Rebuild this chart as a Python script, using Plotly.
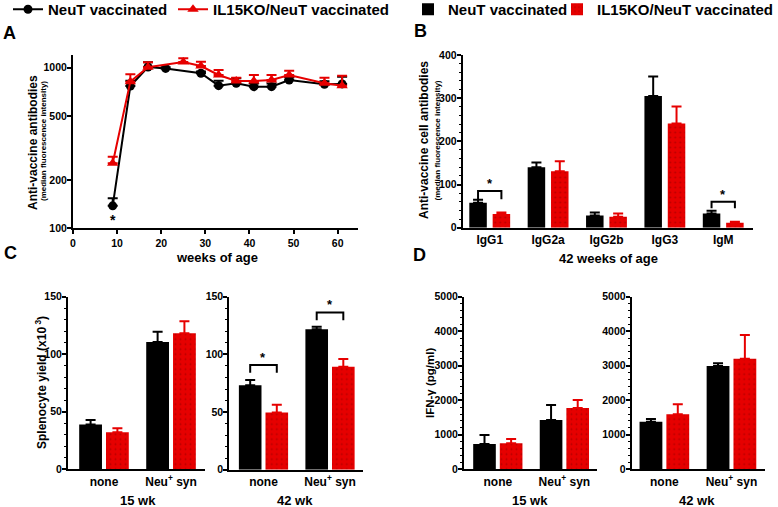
import math
import plotly.graph_objects as go

W, H = 778, 507
FONT = "Liberation Sans, Arial, sans-serif"
BLACK = "#000000"
RED = "#e60000"

# ---------------- Data ----------------
# Panel A: anti-vaccine antibodies (MFI) vs weeks of age
weeks_neut = [9, 13, 17, 21, 29, 33, 37, 41, 45, 49, 57, 61]
mfi_neut = [138, 769, 1010, 990, 923, 773, 800, 762, 762, 838, 788, 793]
sem_neut = [16, 61, 70, 15, 25, 57, 60, 35, 35, 30, 35, 87]
weeks_ko = [9, 13, 17, 25, 29, 33, 37, 41, 45, 49, 57, 61]
mfi_ko = [254, 819, 1006, 1085, 1025, 901, 826, 826, 838, 901, 800, 773]
sem_ko = [25, 91, 75, 59, 66, 67, 40, 75, 63, 57, 67, 117]
sig_A_weeks = [9]

# Panel B: isotypes at 42 weeks
isotypes = ["IgG1", "IgG2a", "IgG2b", "IgG3", "IgM"]
iso_neut = [58, 140, 28.5, 305, 33]
iso_neut_sem = [7, 11, 6.5, 45, 6]
iso_ko = [31.6, 131, 25.5, 241.5, 11.6]
iso_ko_sem = [3.4, 23, 7.5, 39.5, 2.4]
sig_B = [(0, 85, 66), (4, 60, 45)]  # (category index, bracket top, leg bottom)

# Panels C / D
stim = ["none", "Neu<sup>+</sup> syn"]
spleno_15_neut = [39, 110.6]
spleno_15_neut_sem = [3.9, 9]
spleno_15_ko = [32.1, 118.2]
spleno_15_ko_sem = [3.5, 10.4]
spleno_42_neut = [73.3, 121.7]
spleno_42_neut_sem = [4.6, 2.3]
spleno_42_ko = [49.6, 89.4]
spleno_42_ko_sem = [6.7, 6.6]
sig_C42 = [(0, 90.9, 84.0), (1, 136.4, 129.5)]

ifn_15_neut = [733, 1428]
ifn_15_neut_sem = [261, 435]
ifn_15_ko = [753, 1776]
ifn_15_ko_sem = [125, 232]
ifn_42_neut = [1380, 2992]
ifn_42_neut_sem = [78, 77]
ifn_42_ko = [1593, 3205]
ifn_42_ko_sem = [289, 685]

# ---------------- Helpers ----------------
def xd(a, b):
    return [a / W, b / W]

def yd(top, bottom):
    return [1 - bottom / H, 1 - top / H]

tickfont = dict(family=FONT, size=10.5, color="black", weight="bold")
catfont = dict(family=FONT, size=12, color="black", weight="bold")

def xaxis(domain, anchor, rng, **kw):
    d = dict(domain=domain, anchor=anchor, range=rng, showline=True, linewidth=2,
             linecolor="black", showgrid=False, zeroline=False, tickfont=tickfont,
             fixedrange=True)
    d.update(kw)
    return d

def yaxis(domain, anchor, rng, **kw):
    d = dict(domain=domain, anchor=anchor, range=rng, showline=True, linewidth=2,
             linecolor="black", showgrid=False, zeroline=False, ticks="outside",
             ticklen=4, tickwidth=1.5, tickcolor="black", tickfont=tickfont,
             ticklabelstandoff=-2, fixedrange=True)
    d.update(kw)
    return d

fig = go.Figure()

# ---------------- Panel A ----------------
fig.add_trace(go.Scatter(
    x=weeks_neut, y=mfi_neut, mode="lines+markers", name="NeuT vaccinated",
    line=dict(color=BLACK, width=2), marker=dict(symbol="circle", size=9, color=BLACK),
    error_y=dict(type="data", symmetric=False, array=sem_neut, arrayminus=[0] * len(sem_neut),
                 color=BLACK, thickness=2, width=5),
    xaxis="x", yaxis="y", legend="legend", legendwidth=120))
fig.add_trace(go.Scatter(
    x=weeks_ko, y=mfi_ko, mode="lines+markers", name="IL15KO/NeuT vaccinated",
    line=dict(color=RED, width=2), marker=dict(symbol="triangle-up", size=10, color=RED),
    error_y=dict(type="data", symmetric=False, array=sem_ko, arrayminus=[0] * len(sem_ko),
                 color=RED, thickness=2, width=5),
    xaxis="x", yaxis="y", legend="legend"))

annotations = []
shapes = []
for wk in sig_A_weeks:
    v = mfi_neut[weeks_neut.index(wk)]
    annotations.append(dict(x=wk, y=math.log10(v / 1.23), xref="x", yref="y", text="<b>*</b>",
                            showarrow=False, font=dict(family=FONT, size=14, color="black")))

# ---------------- Bar helpers ----------------
BW = 0.34
OFF_N, OFF_K = -0.37, 0.03

def bars(xref, yref, vals_n, sem_n, vals_k, sem_k, legend=None, bw=BW, offn=OFF_N, offk=OFF_K):
    idx = list(range(len(vals_n)))
    show = legend is not None
    extra = dict(legendwidth=104) if show else {}
    fig.add_trace(go.Bar(
        x=idx, y=vals_n, width=bw, offset=offn, name="NeuT vaccinated",
        marker=dict(color=BLACK, line=dict(width=0)),
        error_y=dict(type="data", symmetric=False, array=sem_n, arrayminus=[0] * len(sem_n),
                     color=BLACK, thickness=2, width=5),
        xaxis=xref, yaxis=yref, showlegend=show, legend=legend or "legend", **extra))
    fig.add_trace(go.Bar(
        x=idx, y=vals_k, width=bw, offset=offk, name="IL15KO/NeuT vaccinated",
        marker=dict(color=RED, line=dict(width=0),
                    pattern=dict(shape=".", fgcolor="#8a0000", size=5, solidity=0.12)),
        error_y=dict(type="data", symmetric=False, array=sem_k, arrayminus=[0] * len(sem_k),
                     color=RED, thickness=2, width=5),
        xaxis=xref, yaxis=yref, showlegend=show, legend=legend or "legend"))

def brackets(xref, yref, sig, bw=BW, offn=OFF_N, offk=OFF_K):
    for i, top, leg in sig:
        x0 = i + offn + bw / 2
        x1 = i + offk + bw / 2
        shapes.append(dict(type="path", xref=xref, yref=yref,
                           path=f"M {x0},{leg} L {x0},{top} L {x1},{top} L {x1},{leg}",
                           line=dict(color="black", width=2)))
        annotations.append(dict(x=(x0 + x1) / 2, y=top, xref=xref, yref=yref, yanchor="bottom",
                                text="<b>*</b>", showarrow=False, yshift=-2,
                                font=dict(family=FONT, size=13, color="black")))

# ---------------- Panel B ----------------
BWB, OFFNB, OFFKB = 0.30, -0.35, 0.05
bars("x2", "y2", iso_neut, iso_neut_sem, iso_ko, iso_ko_sem, legend="legend2",
     bw=BWB, offn=OFFNB, offk=OFFKB)
brackets("x2", "y2", sig_B, bw=BWB, offn=OFFNB, offk=OFFKB)

# ---------------- Panels C / D ----------------
bars("x3", "y3", spleno_15_neut, spleno_15_neut_sem, spleno_15_ko, spleno_15_ko_sem)
bars("x4", "y4", spleno_42_neut, spleno_42_neut_sem, spleno_42_ko, spleno_42_ko_sem)
brackets("x4", "y4", sig_C42)
bars("x5", "y5", ifn_15_neut, ifn_15_neut_sem, ifn_15_ko, ifn_15_ko_sem)
bars("x6", "y6", ifn_42_neut, ifn_42_neut_sem, ifn_42_ko, ifn_42_ko_sem)

# ---------------- Axes ----------------
cat_kw = dict(tickvals=[0, 1], ticktext=stim, ticks="", tickfont=catfont)
minor_c = dict(ticklen=2, tickwidth=1, dtick=10, tickcolor="black")
minor_d = dict(ticklen=2, tickwidth=1, dtick=200, tickcolor="black")

layout_axes = dict(
    xaxis=xaxis(xd(73, 358), "y", [0, 64.6], tickvals=[0, 10, 20, 30, 40, 50, 60],
                ticks="outside", ticklen=4, tickwidth=1.5, tickcolor="black"),
    yaxis=yaxis(yd(55, 228.3), "x", [2, math.log10(1200)], type="log",
                tickvals=[100, 200, 500, 1000], ticktext=["100", "200", "500", "1000"]),
    xaxis2=xaxis(xd(462.7, 753), "y2", [-0.463, 4.51], tickvals=list(range(len(isotypes))),
                 ticktext=isotypes, ticks="", tickfont=catfont),
    yaxis2=yaxis(yd(55, 227.7), "x2", [0, 400], tickvals=[0, 100, 200, 300, 400],
                 minor=dict(ticklen=2, tickwidth=1, dtick=20, tickcolor="black")),
    xaxis3=xaxis(xd(68, 205), "y3", [-0.537, 1.507], **cat_kw),
    yaxis3=yaxis(yd(296.7, 469.3), "x3", [0, 150], tickvals=[0, 50, 100, 150], minor=minor_c),
    xaxis4=xaxis(xd(229.3, 363), "y4", [-0.514, 1.496], **cat_kw),
    yaxis4=yaxis(yd(296.7, 469.8), "x4", [0, 150], tickvals=[0, 50, 100, 150], minor=minor_c),
    xaxis5=xaxis(xd(464, 597), "y5", [-0.508, 1.49], **cat_kw),
    yaxis5=yaxis(yd(296.7, 469.3), "x5", [0, 5000], tickvals=[0, 1000, 2000, 3000, 4000, 5000],
                 minor=minor_d),
    xaxis6=xaxis(xd(631.7, 765), "y6", [-0.487, 1.50], **cat_kw),
    yaxis6=yaxis(yd(296.7, 469.3), "x6", [0, 5000], tickvals=[0, 1000, 2000, 3000, 4000, 5000],
                 minor=minor_d),
)

# ---------------- Text annotations ----------------
def ptext(x, y, text, size, angle=0, weight="bold"):
    annotations.append(dict(x=x / W, y=1 - y / H, xref="paper", yref="paper", text=text,
                            showarrow=False, textangle=angle, xanchor="center", yanchor="middle",
                            font=dict(family=FONT, size=size, color="black", weight=weight)))

# panel letters
ptext(9, 33, "A", 18)
ptext(420, 31, "B", 18)
ptext(10, 253, "C", 18)
ptext(419, 255, "D", 18)
# axis titles
ptext(33, 143, "Anti-vaccine antibodies", 12, -90)
ptext(43, 141, "(median fluorescence intensity)", 8, -90)
ptext(217, 257, "weeks of age", 13)
ptext(424, 140, "Anti-vaccine cell antibodies", 12, -90)
ptext(436.5, 141, "(median fluorescence intensity)", 8, -90)
ptext(608, 258, "42 weeks of age", 13)
ptext(41, 383, "Splenocyte yield (x10<sup> 3</sup>)", 12, -90)
ptext(430, 383, "IFN-γ (pg/ml)", 11.5, -90)
ptext(138, 500, "15 wk", 13)
ptext(295, 500, "42 wk", 13)
ptext(530, 500, "15 wk", 13)
ptext(697, 500, "42 wk", 13)

legfont = dict(family=FONT, size=15, color="black", weight="bold")
fig.update_layout(
    width=W, height=H, margin=dict(l=0, r=0, t=0, b=0, pad=0, autoexpand=False),
    paper_bgcolor="white", plot_bgcolor="white",
    barmode="overlay",
    showlegend=True,
    legend=dict(orientation="h", x=8 / W, y=1 + 7 / H, xanchor="left", yanchor="top",
                font=legfont, bgcolor="rgba(0,0,0,0)", itemwidth=30, borderwidth=0),
    legend2=dict(orientation="h", x=408 / W, y=1 + 7 / H, xanchor="left", yanchor="top",
                 font=legfont, bgcolor="rgba(0,0,0,0)", itemwidth=30, borderwidth=0),
    annotations=annotations, shapes=shapes,
    **layout_axes,
)

fig.write_html("out.html", config={"displayModeBar": False},
               post_script="document.body.style.margin='0';")
